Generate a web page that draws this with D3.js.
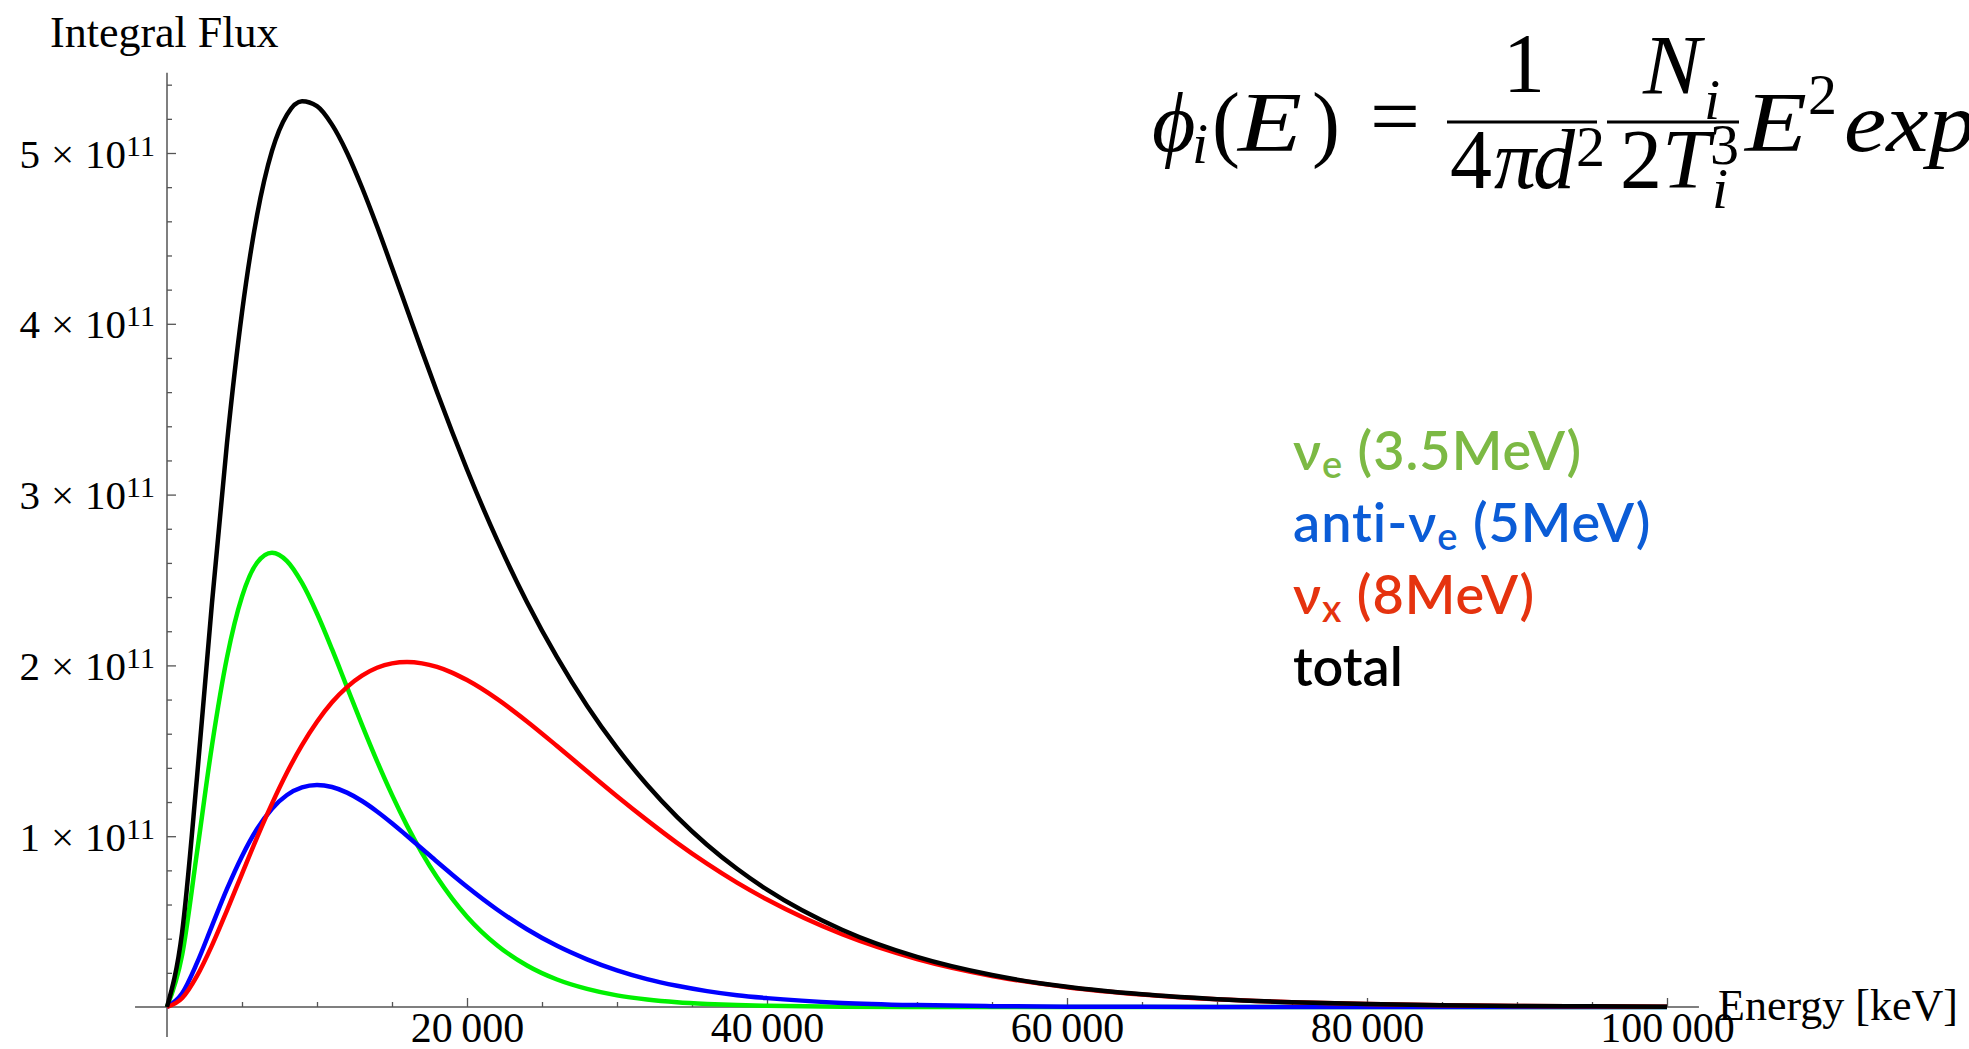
<!DOCTYPE html>
<html>
<head>
<meta charset="utf-8">
<script src="https://cdn.jsdelivr.net/npm/d3@7"></script>
<style>
  body { margin: 0; background: #fff; }
  svg { display: block; }
</style>
</head>
<body>
<svg id="chart" width="1969" height="1049"></svg>
<script>
// Energy grid in keV
const energies = [
  0, 1000, 2000, 3000, 4000, 5000, 6000, 7000, 8000, 9000, 10000,
  11000, 12000, 13000, 14000, 15000, 16000, 17000, 18000, 19000, 20000,
  22000, 24000, 26000, 28000, 30000, 32000, 34000, 36000, 38000, 40000,
  45000, 50000, 55000, 60000, 65000, 70000, 75000, 80000, 85000, 90000, 95000, 100000
];

// Integral flux, in units of 10^11
const fluxNuE = [
  0, 0.301, 0.906, 1.532, 2.047, 2.403, 2.601, 2.660, 2.611, 2.483, 2.304,
  2.095, 1.873, 1.652, 1.440, 1.242, 1.062, 0.901, 0.759, 0.636, 0.529,
  0.362, 0.243, 0.161, 0.106, 0.068, 0.044, 0.028, 0.018, 0.011, 0.007,
  0.002, 0.0006, 0.0002, 0.0001, 0, 0, 0, 0, 0, 0, 0, 0
];
const fluxAntiNuE = [
  0, 0.079, 0.258, 0.475, 0.691, 0.883, 1.042, 1.161, 1.241, 1.286, 1.300,
  1.288, 1.255, 1.206, 1.145, 1.076, 1.002, 0.927, 0.850, 0.776, 0.704,
  0.571, 0.455, 0.358, 0.279, 0.214, 0.163, 0.124, 0.093, 0.069, 0.052,
  0.024, 0.011, 0.005, 0.002, 0.001, 0.0004, 0.0002, 0.0001, 0, 0, 0, 0
];
const fluxNuX = [
  0, 0.051, 0.182, 0.361, 0.566, 0.780, 0.992, 1.191, 1.373, 1.533, 1.670,
  1.784, 1.873, 1.940, 1.986, 2.012, 2.020, 2.012, 1.991, 1.958, 1.914,
  1.804, 1.672, 1.528, 1.380, 1.234, 1.094, 0.961, 0.839, 0.728, 0.629,
  0.426, 0.281, 0.182, 0.116, 0.073, 0.045, 0.028, 0.017, 0.010, 0.006, 0.004, 0.002
];
const fluxTotal = [
  0, 0.432, 1.345, 2.367, 3.303, 4.067, 4.634, 5.012, 5.225, 5.303, 5.274,
  5.166, 5.002, 4.798, 4.571, 4.330, 4.085, 3.840, 3.601, 3.369, 3.147,
  2.736, 2.370, 2.048, 1.764, 1.517, 1.301, 1.113, 0.950, 0.809, 0.687,
  0.452, 0.293, 0.187, 0.118, 0.074, 0.046, 0.028, 0.017, 0.010, 0.006, 0.004, 0.002
];

// Axis ticks
const xTickValues = [20000, 40000, 60000, 80000, 100000];
const xTickLabels = ["20\u2009000", "40\u2009000", "60\u2009000", "80\u2009000", "100\u2009000"];
const yTickValues = [1, 2, 3, 4, 5];
const yTickMantissas = ["1", "2", "3", "4", "5"];
const yTickExponent = "11";

// Legend entries
const legendMain = ["\u03BD", "anti-\u03BD", "\u03BD", "total"];
const legendSub = ["e", "e", "x", ""];
const legendRest = [" (3.5MeV)", " (5MeV)", " (8MeV)", ""];
const legendColors = ["#7cb944", "#0b5cd6", "#e5330f", "#000000"];

const lineColors = ["#00f000", "#0000ff", "#ff0000", "#000000"];
const seriesList = [fluxNuE, fluxAntiNuE, fluxNuX, fluxTotal];

const svg = d3.select("#chart");
svg.append("rect").attr("width", 1969).attr("height", 1049).attr("fill", "#fff");

const x = d3.scaleLinear().domain([0, 100000]).range([167, 1667]);
const y = d3.scaleLinear().domain([0, 5]).range([1007, 153]);

const axisColor = "#555";
const serif = "'Liberation Serif', 'Times New Roman', serif";

// Axis lines (extend a little beyond the data range, below and left of origin)
svg.append("line")
  .attr("x1", x(-2130)).attr("x2", x(102130))
  .attr("y1", y(0)).attr("y2", y(0))
  .attr("stroke", axisColor).attr("stroke-width", 1.5);
svg.append("line")
  .attr("x1", x(0)).attr("x2", x(0))
  .attr("y1", y(-0.176)).attr("y2", y(5.47))
  .attr("stroke", axisColor).attr("stroke-width", 1.5);

// Minor ticks
const xMinor = d3.range(5000, 100001, 5000).filter(v => v % 20000 !== 0);
const yMinor = d3.range(1, 28).map(i => +(i * 0.2).toFixed(1)).filter(v => Math.abs(v - Math.round(v)) > 1e-6);

const gxMinor = svg.append("g").attr("transform", `translate(0,${y(0)})`)
  .call(d3.axisBottom(x).tickValues(xMinor).tickSizeInner(-5).tickSizeOuter(0).tickFormat(""));
gxMinor.select(".domain").remove();
gxMinor.selectAll("line").attr("stroke", axisColor).attr("stroke-width", 1.3);

const gyMinor = svg.append("g").attr("transform", `translate(${x(0)},0)`)
  .call(d3.axisLeft(y).tickValues(yMinor).tickSizeInner(-5).tickSizeOuter(0).tickFormat(""));
gyMinor.select(".domain").remove();
gyMinor.selectAll("line").attr("stroke", axisColor).attr("stroke-width", 1.3);

// Major ticks + labels
const gx = svg.append("g").attr("transform", `translate(0,${y(0)})`)
  .call(d3.axisBottom(x).tickValues(xTickValues).tickSizeInner(-9).tickSizeOuter(0)
    .tickPadding(5).tickFormat((d, i) => xTickLabels[i]));
gx.select(".domain").remove();
gx.selectAll("line").attr("stroke", axisColor).attr("stroke-width", 1.3);
gx.selectAll("text")
  .attr("font-family", serif).attr("font-size", 42).attr("fill", "#000");

const gy = svg.append("g").attr("transform", `translate(${x(0)},0)`)
  .call(d3.axisLeft(y).tickValues(yTickValues).tickSizeInner(-9).tickSizeOuter(0)
    .tickPadding(12).tickFormat(""));
gy.select(".domain").remove();
gy.selectAll("line").attr("stroke", axisColor).attr("stroke-width", 1.3);
gy.selectAll(".tick").each(function(d, i) {
  const t = d3.select(this).select("text")
    .attr("font-family", serif).attr("font-size", 41).attr("fill", "#000")
    .attr("dy", null).attr("y", 14).attr("text-anchor", "end");
  t.text(null);
  t.append("tspan").text(yTickMantissas[i]);
  t.append("tspan").attr("dx", 11).text("\u00D7");
  t.append("tspan").attr("dx", 11).text("10");
  t.append("tspan").attr("font-size", 30).attr("dy", -12).text(yTickExponent);
});

// Curves
const line = d3.line()
  .x((d, i) => x(energies[i]))
  .y(d => y(d))
  .curve(d3.curveMonotoneX);

svg.append("g").selectAll("path")
  .data(seriesList)
  .join("path")
  .attr("d", d => line(d))
  .attr("fill", "none")
  .attr("stroke", (d, i) => lineColors[i])
  .attr("stroke-width", 4.5)
  .attr("stroke-linejoin", "round");

// Axis titles
svg.append("text").attr("x", 50).attr("y", 47)
  .attr("font-family", serif).attr("font-size", 44).attr("fill", "#000")
  .text("Integral Flux");
svg.append("text").attr("x", 1718).attr("y", 1020)
  .attr("font-family", serif).attr("font-size", 44).attr("fill", "#000")
  .text("Energy [keV]");

// Legend
const legendFont = "Lato, 'Noto Sans', sans-serif";
const legend = svg.append("g");
legendMain.forEach((m, i) => {
  const t = legend.append("text")
    .attr("x", 1293).attr("y", 470 + i * 72)
    .attr("font-family", legendFont).attr("font-size", 54).attr("font-weight", 600)
    .attr("letter-spacing", legendSub[i] ? 1 : 0)
    .attr("fill", legendColors[i]);
  t.append("tspan").text(m);
  if (legendSub[i]) {
    t.append("tspan").attr("font-size", 38).attr("dy", 8).text(legendSub[i]);
    t.append("tspan").attr("dy", -8).text(legendRest[i]);
  }
});

// Spectrum formula
const f = svg.append("g").attr("font-family", serif).attr("fill", "#000");
const fs = 84, fsSmall = 58;
function put(txt, xx, yy, size, italic, opts) {
  const o = opts || {};
  const t = f.append("text").attr("x", xx).attr("y", yy).attr("font-size", size)
    .attr("font-style", italic ? "italic" : "normal")
    .attr("text-anchor", o.anchor || "start").text(txt);
  if (o.len) t.attr("textLength", o.len).attr("lengthAdjust", "spacingAndGlyphs");
}
put("\u03D5", 1152, 151, fs, true);
put("i", 1192, 163, fsSmall, true);
put("(", 1212, 151, fs, false);
put("E", 1238, 151, fs, true, { len: 64 });
put(")", 1312, 151, fs, false);
put("=", 1370, 145, fs, false, { len: 50 });
f.append("line").attr("x1", 1447).attr("x2", 1597).attr("y1", 122).attr("y2", 122)
  .attr("stroke", "#000").attr("stroke-width", 3);
put("1", 1524, 92, fs, false, { anchor: "middle" });
put("4", 1450, 188, fs, false);
put("\u03C0", 1494, 188, fs, true);
put("d", 1533, 188, fs, true);
put("2", 1576, 166, fsSmall, false);
f.append("line").attr("x1", 1607).attr("x2", 1739).attr("y1", 122).attr("y2", 122)
  .attr("stroke", "#000").attr("stroke-width", 3);
put("N", 1643, 94, fs, true, { len: 58 });
put("i", 1704, 119, fsSmall, true);
put("2", 1620, 188, fs, false);
put("T", 1662, 188, fs, true, { len: 48 });
put("3", 1710, 164, fsSmall, false);
put("i", 1712, 208, fsSmall, true);
put("E", 1745, 151, fs, true, { len: 62 });
put("2", 1808, 114, fsSmall, false);
put("exp", 1844, 151, fs, true, { len: 132 });
</script>
</body>
</html>
